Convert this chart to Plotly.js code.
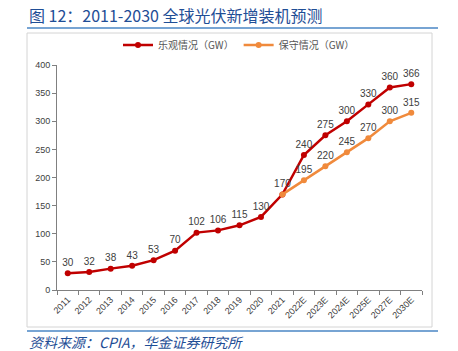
<!DOCTYPE html>
<html>
<head>
<meta charset="utf-8">
<script src="https://cdn.plot.ly/plotly-3.0.1.min.js"></script>
<style>html,body{margin:0;padding:0;background:#fff;}#chart{width:458px;height:351px;}</style>
</head>
<body>
<div id="chart"></div>
<script>
const categories = ["2011","2012","2013","2014","2015","2016","2017","2018","2019","2020","2021","2022E","2023E","2024E","2025E","2027E","2030E"];
const optimistic = [30,32,38,43,53,70,102,106,115,130,170,240,275,300,330,360,366];
const consCategories = ["2021","2022E","2023E","2024E","2025E","2027E","2030E"];
const conservative = [170,195,220,245,270,300,315];
const consLabels = ["","195","220","245","270","300","315"];
const yTicks = [0,50,100,150,200,250,300,350,400];

const W = 458, H = 351;
const px = v => v / W;
const py = v => 1 - v / H;

const red = "#C00000", orange = "#F08A3C";
const lblFont = {family: "Liberation Sans, Arial, sans-serif", size: 10, color: "#404040"};

const traces = [
  {
    x: categories, y: optimistic, type: "scatter", mode: "lines+markers+text",
    name: "乐观情况（GW）",
    line: {color: red, width: 2.5}, marker: {color: red, size: 6},
    text: optimistic.map(String), textposition: "top center", textfont: lblFont,
    cliponaxis: false
  },
  {
    x: consCategories, y: conservative, type: "scatter", mode: "lines+markers+text",
    name: "保守情况（GW）",
    line: {color: orange, width: 2.5}, marker: {color: orange, size: 6},
    text: consLabels, textposition: "top center", textfont: lblFont,
    cliponaxis: false
  }
];

const layout = {
  width: W, height: H,
  margin: {l: 0, r: 0, t: 0, b: 0},
  paper_bgcolor: "#fff", plot_bgcolor: "#fff",
  showlegend: true,
  legend: {
    orientation: "h", x: px(118), y: py(45), xanchor: "left", yanchor: "middle",
    font: {family: "Noto Sans CJK SC", size: 10, color: "#555"},
    itemwidth: 30, bgcolor: "rgba(0,0,0,0)"
  },
  xaxis: {
    type: "category", categoryorder: "array", categoryarray: categories,
    domain: [px(57), px(422)], range: [-0.5, categories.length - 0.5],
    showline: true, linecolor: "#808080", linewidth: 1,
    ticks: "outside", tickson: "boundaries", ticklen: 4, tickcolor: "#808080",
    tickangle: -45, showgrid: false, zeroline: false,
    tickfont: {family: "Liberation Sans, Arial, sans-serif", size: 9, color: "#404040"}
  },
  yaxis: {
    domain: [py(290), py(65)], range: [0, 400],
    tickvals: yTicks, ticktext: yTicks.map(String),
    showline: true, linecolor: "#808080", linewidth: 1,
    ticks: "outside", ticklen: 4, tickcolor: "#808080",
    showgrid: false, zeroline: false,
    tickfont: {family: "Liberation Sans, Arial, sans-serif", size: 9, color: "#404040"}
  },
  shapes: [
    {type: "rect", xref: "paper", yref: "paper", x0: px(27), x1: px(432), y0: py(327), y1: py(33), line: {color: "#d4d4d4", width: 1}},
    {type: "line", xref: "paper", yref: "paper", x0: px(27), x1: px(438), y0: py(28), y1: py(28), line: {color: "#4A86C5", width: 1.5}},
    {type: "line", xref: "paper", yref: "paper", x0: px(27), x1: px(438), y0: py(331), y1: py(331), line: {color: "#4A86C5", width: 1.5}}
  ],
  annotations: [
    {xref: "paper", yref: "paper", x: px(27), y: py(15), xanchor: "left", yanchor: "middle", showarrow: false,
     text: "图 12：2011-2030 全球光伏新增装机预测",
     font: {family: "Noto Sans CJK SC", size: 16, color: "#1F4E96"}},
    {xref: "paper", yref: "paper", x: px(27), y: py(342), xanchor: "left", yanchor: "middle", showarrow: false,
     text: "<i>资料来源：CPIA，华金证券研究所</i>",
     font: {family: "Noto Sans CJK SC", size: 14, color: "#1F4E96"}}
  ]
};

Plotly.newPlot("chart", traces, layout, {displayModeBar: false, staticPlot: true});
</script>
</body>
</html>
